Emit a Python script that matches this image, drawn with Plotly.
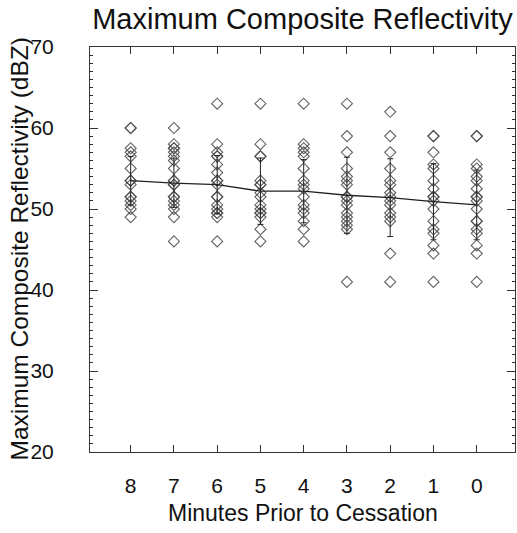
import plotly.graph_objects as go

# Minutes prior to cessation (categories)
minutes = [8, 7, 6, 5, 4, 3, 2, 1, 0]

# Individual maximum composite reflectivity values (dBZ) per minute
refl_m8 = [60, 60, 57.5, 57, 56.5, 55, 53.5, 53.5, 53, 51.5, 51.5, 51, 50.5, 50, 49]
refl_m7 = [60, 58, 57.5, 57.5, 57, 56.5, 56, 55, 53.5, 53.5, 53, 53, 51.5, 51.5, 51, 50.5, 50, 49, 46]
refl_m6 = [63, 58, 57, 56.5, 56.5, 55.5, 54.5, 53.5, 53.5, 53, 51.5, 51.5, 50.5, 50, 49.5, 49.5, 49, 46]
refl_m5 = [63, 58, 56.5, 56.5, 53.5, 53, 53, 52, 51.5, 50.5, 50, 49.5, 49.5, 49, 47.5, 46]
refl_m4 = [63, 58, 57.5, 57, 56.5, 55, 53.5, 53, 52.5, 51.5, 50.5, 50, 49.5, 48.5, 47.5, 46]
refl_m3 = [63, 59, 57, 55, 54, 53.5, 53, 51.5, 51.5, 51, 50.5, 49.5, 49, 48.5, 48, 47.5, 41]
refl_m2 = [62, 59, 57, 55, 53.5, 53, 52, 51.5, 51, 50.5, 49.5, 49, 48.5, 44.5, 41]
refl_m1 = [59, 59, 57, 55.5, 55, 53.5, 52.5, 51.5, 51.5, 51, 50, 48.5, 47.5, 47, 45.5, 44.5, 41]
refl_m0 = [59, 59, 55.5, 55, 54, 53.5, 52.5, 51.5, 51.5, 51, 50, 48.5, 48.5, 47.5, 47, 45.5, 44.5, 41]

# Mean and standard deviation per minute
mean_refl = [53.5, 53.2, 53.0, 52.2, 52.2, 51.7, 51.4, 50.9, 50.5]
sd_refl = [3.0, 3.0, 3.6, 4.1, 3.9, 4.7, 4.8, 4.7, 4.3]

columns = [refl_m8, refl_m7, refl_m6, refl_m5, refl_m4, refl_m3, refl_m2, refl_m1, refl_m0]

xs, ys = [], []
for m, vals in zip(minutes, columns):
    xs.extend([m] * len(vals))
    ys.extend(vals)

FONT = "Liberation Sans, Arial, Helvetica, sans-serif"
AX = "#333333"
TXT = "#111111"
XRANGE = [8.94, -0.885]
YRANGE = [20, 70]

fig = go.Figure()
fig.add_trace(go.Scatter(
    x=xs, y=ys, mode="markers",
    marker=dict(symbol="diamond-open", size=8.5, color="rgba(70,70,70,0.85)",
                line=dict(width=1.1, color="rgba(70,70,70,0.85)")),
    showlegend=False, hoverinfo="x+y",
))
fig.add_trace(go.Scatter(
    x=minutes, y=mean_refl, mode="lines",
    line=dict(color="#222222", width=1.3),
    error_y=dict(type="data", array=sd_refl, visible=True, color="#222222",
                 thickness=1, width=3),
    showlegend=False,
))
# invisible companion trace so the tick-mark overlay axes are drawn
fig.add_trace(go.Scatter(
    x=minutes, y=mean_refl, xaxis="x2", yaxis="y2", mode="markers",
    marker=dict(opacity=0), showlegend=False, hoverinfo="skip",
))

fig.update_layout(
    width=517, height=533,
    margin=dict(l=90, r=2, t=47, b=81),
    paper_bgcolor="white", plot_bgcolor="white",
    font=dict(family=FONT, color=TXT),
    title=dict(text="Maximum Composite Reflectivity", x=0.5, xref="paper",
               y=1 - 19 / 533, yref="container", yanchor="middle",
               xanchor="center", font=dict(size=29, family=FONT, color=TXT)),
    xaxis=dict(
        range=XRANGE, tickmode="array", tickvals=minutes,
        ticktext=[str(m) for m in minutes],
        ticks="outside", ticklen=15, tickcolor="rgba(0,0,0,0)",
        showline=True, linecolor=AX, linewidth=1, mirror=True,
        showgrid=False, zeroline=False,
        tickfont=dict(size=21, family=FONT, color=TXT),
    ),
    yaxis=dict(
        range=YRANGE, tickmode="linear", tick0=20, dtick=10,
        ticks="outside", ticklen=31, tickcolor="rgba(0,0,0,0)",
        showline=True, linecolor=AX, linewidth=1, mirror=True,
        showgrid=False, zeroline=False,
        tickfont=dict(size=21, family=FONT, color=TXT),
    ),
    xaxis2=dict(
        overlaying="x", anchor="y2", side="bottom", range=XRANGE,
        tickmode="array", tickvals=minutes,
        ticks="inside", ticklen=7, tickcolor=AX, tickwidth=1,
        showticklabels=False, showline=False, mirror="ticks",
        showgrid=False, zeroline=False,
    ),
    yaxis2=dict(
        overlaying="y", anchor="x2", side="left", range=YRANGE,
        tickmode="linear", tick0=20, dtick=10,
        ticks="inside", ticklen=8, tickcolor=AX, tickwidth=1,
        minor=dict(dtick=1, ticks="inside", ticklen=3, tickcolor=AX, tickwidth=1, showgrid=False),
        showticklabels=False, showline=False, mirror="ticks",
        showgrid=False, zeroline=False,
    ),
    annotations=[
        dict(text="Minutes Prior to Cessation", xref="paper", yref="paper",
             x=0.5, y=0, yshift=-61, xanchor="center", yanchor="middle",
             showarrow=False, font=dict(size=23, family=FONT, color=TXT)),
        dict(text="Maximum Composite Reflectivity (dBZ)", xref="paper", yref="paper",
             x=0, xshift=-71, y=0.5, xanchor="center", yanchor="middle", textangle=-90,
             showarrow=False, font=dict(size=24.5, family=FONT, color=TXT)),
    ],
)

fig.write_html("out.html")
